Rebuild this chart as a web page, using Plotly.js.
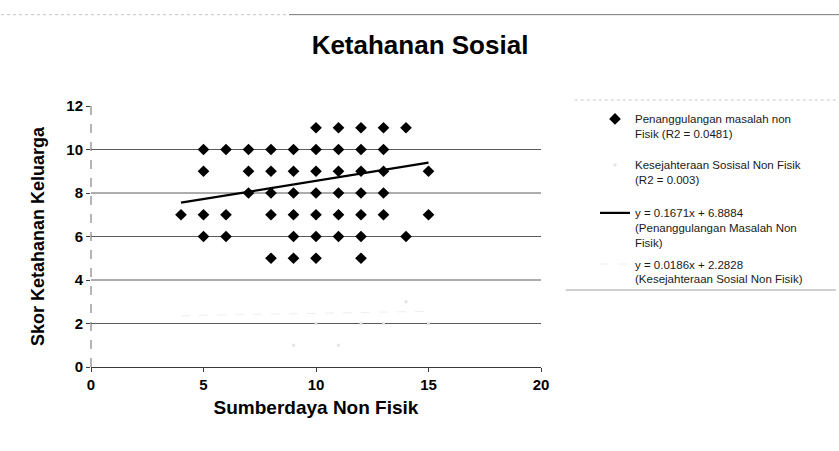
<!DOCTYPE html>
<html>
<head>
<meta charset="utf-8">
<script src="https://cdn.plot.ly/plotly-3.0.1.min.js"></script>
<style>
  html, body { margin: 0; padding: 0; background: #ffffff; }
  #chart { width: 839px; height: 451px; }
</style>
</head>
<body>
<div id="chart"></div>
<script>
// Series 1: Penanggulangan masalah non Fisik (x = Sumberdaya Non Fisik, y = Skor Ketahanan Keluarga)
const sumberdayaNonFisik = [
  10, 11, 12, 13, 14,
  5, 6, 7, 8, 9, 10, 11, 12, 13,
  5, 7, 8, 9, 10, 11, 12, 13, 15,
  7, 8, 9, 10, 11, 12, 13,
  4, 5, 6, 8, 9, 10, 11, 12, 13, 15,
  5, 6, 9, 10, 11, 12, 14,
  8, 9, 10, 12
];
const skorPenanggulangan = [
  11, 11, 11, 11, 11,
  10, 10, 10, 10, 10, 10, 10, 10, 10,
  9, 9, 9, 9, 9, 9, 9, 9, 9,
  8, 8, 8, 8, 8, 8, 8,
  7, 7, 7, 7, 7, 7, 7, 7, 7, 7,
  6, 6, 6, 6, 6, 6, 6,
  5, 5, 5, 5
];

// Series 2: Kesejahteraan Sosisal Non Fisik (barely visible in the reference)
const sumberdayaKesejahteraan = [9, 11, 10, 12, 13, 14, 15];
const skorKesejahteraan = [1, 1, 2, 2, 2, 3, 2];

// Trend line equations (from the legend)
const trend1 = { slope: 0.1671, intercept: 6.8884, xFrom: 4, xTo: 15 };
const trend2 = { slope: 0.0186, intercept: 2.2828, xFrom: 4, xTo: 15 };

// Axis ticks and labels
const xTicks = [0, 5, 10, 15, 20];
const yTicks = [0, 2, 4, 6, 8, 10, 12];
const yGridLines = [2, 4, 6, 8, 10];

const chartTitle = 'Ketahanan Sosial';
const xTitle = 'Sumberdaya Non Fisik';
const yTitle = 'Skor Ketahanan Keluarga';
const legendNames = [
  'Penanggulangan masalah non<br>Fisik (R2 = 0.0481)',
  'Kesejahteraan Sosisal Non Fisik<br>(R2 = 0.003)',
  'y = 0.1671x + 6.8884<br>(Penanggulangan Masalah Non<br>Fisik)',
  'y = 0.0186x + 2.2828<br>(Kesejahteraan Sosial Non Fisik)'
];

function lineOf(t) {
  return { x: [t.xFrom, t.xTo], y: [t.slope * t.xFrom + t.intercept, t.slope * t.xTo + t.intercept] };
}
const l1 = lineOf(trend1);
const l2 = lineOf(trend2);

const FONT = 'Liberation Sans, Arial, sans-serif';

const traces = [
  {
    type: 'scatter', mode: 'markers',
    x: sumberdayaNonFisik, y: skorPenanggulangan,
    name: legendNames[0], legend: 'legend',
    marker: { symbol: 'diamond', size: 9, color: '#000000' },
    cliponaxis: false
  },
  {
    type: 'scatter', mode: 'markers',
    x: sumberdayaKesejahteraan, y: skorKesejahteraan,
    name: legendNames[1], legend: 'legend2',
    marker: { symbol: 'square', size: 3, color: '#e4e4e4' }
  },
  {
    type: 'scatter', mode: 'lines',
    x: l1.x, y: l1.y,
    name: legendNames[2], legend: 'legend3',
    line: { color: '#000000', width: 2.2 }
  },
  {
    type: 'scatter', mode: 'lines',
    x: l2.x, y: l2.y,
    name: legendNames[3], legend: 'legend4',
    line: { color: '#efefef', width: 1, dash: 'dash' }
  }
];

const shapes = yGridLines.map(v => ({
  type: 'line', xref: 'paper', yref: 'y', x0: 0, x1: 1, y0: v, y1: v,
  line: { color: '#5a5a5a', width: 1 }, layer: 'below'
}));
// dashed vertical axis line
shapes.push({ type: 'line', xref: 'paper', yref: 'y', x0: 0, x1: 0, y0: 0, y1: 12,
  line: { color: '#6a6a6a', width: 1, dash: 'dash' }, layer: 'below' });
// page edge line at the top of the scan
shapes.push({ type: 'line', xref: 'paper', yref: 'paper', x0: -0.2, x1: 0.44, y0: 1.35, y1: 1.35,
  line: { color: '#c4c4c4', width: 1, dash: 'dot' } });
shapes.push({ type: 'line', xref: 'paper', yref: 'paper', x0: 0.44, x1: 1.67, y0: 1.35, y1: 1.35,
  line: { color: '#777777', width: 1 } });
// legend frame (faint top and bottom edges)
shapes.push({ type: 'line', xref: 'paper', yref: 'paper', x0: 1.075, x1: 1.655, y0: 1.023, y1: 1.023,
  line: { color: '#c8c8c8', width: 1, dash: 'dot' } });
shapes.push({ type: 'line', xref: 'paper', yref: 'paper', x0: 1.055, x1: 1.655, y0: 0.295, y1: 0.295,
  line: { color: '#a0a0a0', width: 1 } });

function legendAt(yPaper) {
  return {
    x: 1.12, xanchor: 'left', xref: 'paper',
    y: yPaper, yanchor: 'top', yref: 'paper',
    font: { family: FONT, size: 11.5, color: '#1a1a1a' },
    bgcolor: 'rgba(0,0,0,0)', borderwidth: 0, valign: 'top',
    itemwidth: 30
  };
}

const layout = {
  width: 839, height: 451,
  margin: { l: 91, r: 298, t: 106, b: 84, pad: 0 },
  paper_bgcolor: '#ffffff', plot_bgcolor: '#ffffff',
  font: { family: FONT, color: '#000000' },
  showlegend: true,
  title: {
    text: '<b>' + chartTitle + '</b>',
    font: { family: FONT, size: 26, color: '#000000' },
    x: 420 / 839, xref: 'container', xanchor: 'center',
    y: 0.9, yref: 'container', yanchor: 'middle'
  },
  xaxis: {
    range: [0, 20], tickvals: xTicks, ticktext: xTicks.map(String),
    showgrid: false, zeroline: false,
    showline: true, linecolor: '#3a3a3a', linewidth: 1,
    ticks: 'outside', ticklen: 4, tickcolor: '#3a3a3a',
    tickfont: { family: FONT, size: 15, color: '#000000', weight: 'bold' },
    title: { text: '<b>' + xTitle + '</b>', font: { family: FONT, size: 19, color: '#000000' }, standoff: 8 },
    fixedrange: true
  },
  yaxis: {
    range: [0, 12], tickvals: yTicks, ticktext: yTicks.map(String),
    showgrid: false, zeroline: false, showline: false,
    ticks: 'outside', ticklen: 4, tickcolor: '#3a3a3a',
    tickfont: { family: FONT, size: 15, color: '#000000', weight: 'bold' },
    title: { text: '<b>' + yTitle + '</b>', font: { family: FONT, size: 18, color: '#000000' }, standoff: 17 },
    fixedrange: true
  },
  legend: legendAt(1.004),
  legend2: legendAt(0.828),
  legend3: legendAt(0.644),
  legend4: legendAt(0.448),
  shapes: shapes
};

Plotly.newPlot('chart', traces, layout, { displayModeBar: false, staticPlot: true });
</script>
</body>
</html>
